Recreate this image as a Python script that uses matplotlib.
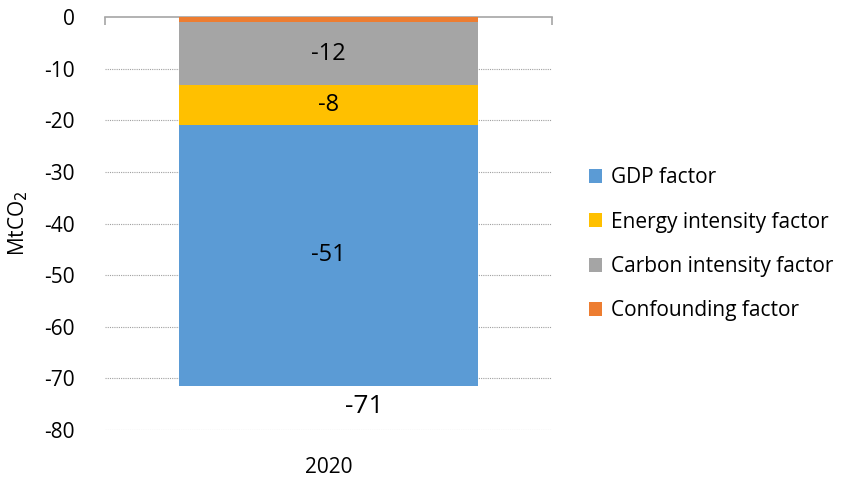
import matplotlib.pyplot as plt

# Data
year = ["2020"]
factors = ["Confounding factor", "Carbon intensity factor", "Energy intensity factor", "GDP factor"]
values = [-1.0, -12.1, -7.7, -50.6]
labels = ["", "-12", "-8", "-51"]
total_label = "-71"
colors = ["#ED7D31", "#A5A5A5", "#FFC000", "#5B9BD5"]
yticks = [0, -10, -20, -30, -40, -50, -60, -70, -80]
legend_order = ["GDP factor", "Energy intensity factor", "Carbon intensity factor", "Confounding factor"]

plt.rcParams['font.family'] = ['Open Sans', 'DejaVu Sans']

fig = plt.figure(figsize=(8.42, 4.8), dpi=100)
ax = fig.add_axes([0.1247, 0.1042, 0.531, 0.8598])

# stacked bar going down from 0
bottom = 0
bars = {}
for name, val, lab, col in zip(factors, values, labels, colors):
    b = ax.bar(0, val, bottom=bottom, width=0.667, color=col, label=name, zorder=3)
    bars[name] = b
    if lab:
        ax.text(0, bottom + val / 2, lab, ha='center', va='center', fontsize=17, color='black', zorder=4)
    bottom += val

# total under the bar
ax.text(0.08, bottom - 4.0, total_label, ha='center', va='center', fontsize=19, color='black')

ax.set_xlim(-0.5, 0.5)
ax.set_ylim(-80, 0)
ax.set_yticks(yticks)
ax.set_yticklabels([str(t) for t in yticks], fontsize=15)
ax.set_xticks([])
ax.text(0, -87.2, year[0], ha='center', va='center', fontsize=15)

for t in yticks[1:]:
    ax.axhline(t, color='#A0A0A0', lw=0.8, ls=(0, (1, 1)), zorder=1)

for s in ['left', 'right', 'bottom']:
    ax.spines[s].set_visible(False)
ax.spines['top'].set_color('#A6A6A6')
ax.spines['top'].set_linewidth(1.2)
ax.tick_params(axis='y', length=0, pad=22)
# little tick marks at the ends of the category axis
ax.vlines([-0.5, 0.5], -1.5, 0, color='#A6A6A6', lw=1.2, clip_on=False)

ax.set_ylabel("MtCO$_2$", fontsize=15)
ax.yaxis.set_label_coords(-0.168, 0.5)

handles = [bars[f] for f in legend_order]
fig.legend(handles, legend_order,
           loc='center left', bbox_to_anchor=(0.699, 0.491), frameon=False, fontsize=15,
           handlelength=0.65, handleheight=0.65, handletextpad=0.45, labelspacing=1.12,
           borderpad=0, borderaxespad=0)

fig.savefig("out.png", dpi=100)
